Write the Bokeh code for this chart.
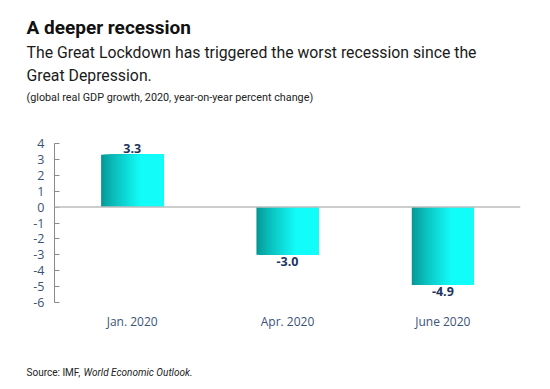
from bokeh.plotting import figure
from bokeh.models import FactorRange, Range1d, FixedTicker, Span, ColumnDataSource
from bokeh.transform import dodge
from bokeh.core.properties import value
from bokeh.embed import file_html
from bokeh.resources import INLINE

# ---- data ----
categories = ["Jan. 2020", "Apr. 2020", "June 2020"]
growth = [3.3, -3.0, -4.9]
growth_labels = ["3.3", "-3.0", "-4.9"]
y_ticks = [-6, -5, -4, -3, -2, -1, 0, 1, 2, 3, 4]
y_tick_labels = ["-6", "-5", "-4", "-3", "-2", "-1", "0", "1", "2", "3", "4"]

title_text = "A deeper recession"
subtitle_lines = ["The Great Lockdown has triggered the worst recession since the",
                  "Great Depression."]
note_text = "(global real GDP growth, 2020, year-on-year percent change)"
source_plain = "Source: IMF,"
source_italic = "World Economic Outlook."

W = 550


def text_panel(h):
    f = figure(width=W, height=h, x_range=Range1d(0, W), y_range=Range1d(h, 0),
               x_axis_location=None, y_axis_location=None, min_border=0,
               min_border_left=0, min_border_right=0, min_border_top=0,
               min_border_bottom=0, output_backend="svg", toolbar_location=None)
    f.outline_line_color = None
    f.xgrid.grid_line_color = None
    f.ygrid.grid_line_color = None
    return f


def put(f, text, x, y, size, style="normal", color="#1a1a1a"):
    f.text(x=[x], y=[y], text=[text], text_font=value("Roboto"),
           text_font_size=size, text_font_style=style, text_color=color,
           text_baseline="alphabetic", text_align="left")


# ---- header ----
head = text_panel(110)
put(head, title_text, 26, 27, "19px", "bold", "#111111")
put(head, subtitle_lines[0], 26, 52, "15.8px", "normal", "#1a1a1a")
put(head, subtitle_lines[1], 26, 75, "15.8px", "normal", "#1a1a1a")
put(head, note_text, 26, 97, "10.8px", "normal", "#222222")

# ---- chart ----
p = figure(width=W, height=240, x_range=FactorRange(*categories),
           y_range=Range1d(-6, 4), output_backend="svg", toolbar_location=None,
           min_border_left=54, min_border_right=30, min_border_top=33,
           min_border_bottom=48)
p.x_range.range_padding = 0
p.outline_line_color = None
p.xgrid.grid_line_color = None
p.ygrid.grid_line_color = None

src = ColumnDataSource(dict(cat=categories, val=growth, lab=growth_labels,
                            base=["bottom" if v >= 0 else "top" for v in growth],
                            off=[-2 if v >= 0 else 2 for v in growth]))

# gradient bars (dark teal -> cyan), drawn as overlapping strips
bar_w = 0.4
N = 40
c0 = (0x05, 0x98, 0x95)
c1 = (0x12, 0xfd, 0xfa)
for i in range(N):
    t = min(1.0, (i / (N - 1)) / 0.65)
    t = t ** 0.85
    col = "#%02x%02x%02x" % tuple(int(round(a + (b - a) * t)) for a, b in zip(c0, c1))
    left = -bar_w / 2 + i * bar_w / N
    w = bar_w / 2 - left
    center = left + w / 2
    p.vbar(x=dodge("cat", center, range=p.x_range), top="val", bottom=0,
           width=w, source=src, fill_color=col, line_color=None)

# zero line
p.add_layout(Span(location=0, dimension="width", line_color="#bdbdbd", line_width=1.5))

# value labels
p.text(x="cat", y="val", text="lab", source=src, text_align="center",
       text_baseline="base", y_offset="off", text_font=value("Open Sans"),
       text_font_style="bold", text_font_size="12.5px", text_color="#1c3461")

# axes
ya = p.yaxis[0]
ya.ticker = FixedTicker(ticks=y_ticks)
ya.major_label_overrides = dict(zip(y_ticks, y_tick_labels))
ya.axis_line_color = "#8a8a8a"
ya.major_tick_line_color = "#8a8a8a"
ya.major_tick_in = 5
ya.major_tick_out = 0
ya.minor_tick_line_color = None
ya.major_label_standoff = 10
ya.major_label_text_font = "Open Sans"
ya.major_label_text_font_size = "12.5px"
ya.major_label_text_color = "#3b5376"

xa = p.xaxis[0]
xa.axis_line_color = None
xa.major_tick_line_color = None
xa.minor_tick_line_color = None
xa.major_label_standoff = 4
xa.major_label_text_font = "Open Sans"
xa.major_label_text_font_size = "12px"
xa.major_label_text_color = "#3b5376"

# ---- footer ----
foot = text_panel(39)
put(foot, source_plain, 26, 22, "10px", "normal", "#222222")
put(foot, source_italic, 83, 22, "10px", "italic", "#222222")

open("out.html", "w").write(file_html([head, p, foot], INLINE))
